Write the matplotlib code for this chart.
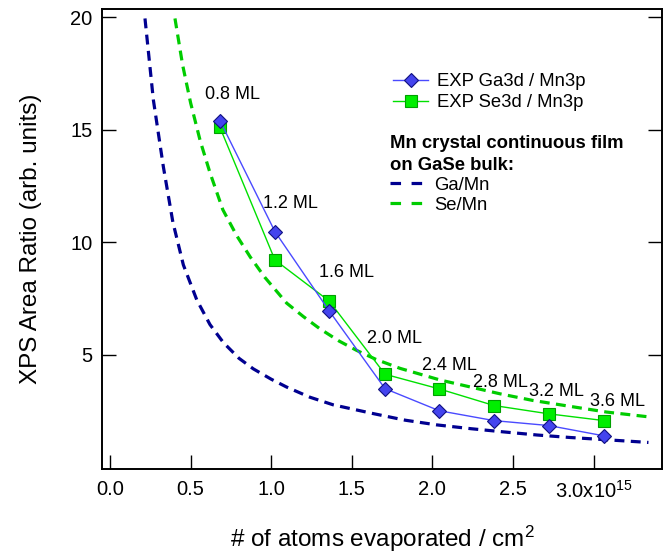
import matplotlib
matplotlib.use("Agg")
from matplotlib import pyplot as plt
from matplotlib.lines import Line2D

plt.rcParams['font.family'] = ['Liberation Sans', 'DejaVu Sans']
plt.rcParams['mathtext.fontset'] = 'custom'
plt.rcParams['mathtext.rm'] = 'Liberation Sans'
plt.rcParams['mathtext.it'] = 'Liberation Sans:italic'

# coverage (units of 1e15 atoms/cm^2) and measured area ratios
dose = [0.682, 1.023, 1.360, 1.706, 2.042, 2.382, 2.723, 3.066]
ga_mn3p = [15.41, 10.48, 6.95, 3.50, 2.52, 2.08, 1.86, 1.40]
se_mn3p = [15.11, 9.22, 7.39, 4.14, 3.49, 2.75, 2.38, 2.08]
ml_labels = ['0.8 ML', '1.2 ML', '1.6 ML', '2.0 ML', '2.4 ML', '2.8 ML', '3.2 ML', '3.6 ML']
ml_x = [0.757, 1.117, 1.464, 1.762, 2.103, 2.42, 2.77, 3.15]
ml_y = [16.55, 11.71, 8.64, 5.75, 4.51, 3.76, 3.36, 2.92]

# model curves: continuous Mn film on GaSe bulk
ga_model_x = [0.217, 0.269, 0.331, 0.39, 0.455, 0.538, 0.62, 0.703, 0.80, 0.889, 1.0,
              1.096, 1.24, 1.385, 1.634, 1.83, 2.027, 2.24, 2.44, 2.65, 2.854, 3.1, 3.34]
ga_model_y = [19.95, 16.33, 13.36, 10.9, 9.0, 7.45, 6.35, 5.55, 4.85, 4.38, 3.92,
              3.57, 3.12, 2.78, 2.39, 2.1, 1.89, 1.72, 1.58, 1.44, 1.33, 1.22, 1.11]
se_model_x = [0.403, 0.45, 0.50, 0.56, 0.62, 0.70, 0.786, 0.87, 0.96, 1.096, 1.2, 1.30,
              1.42, 1.53, 1.65, 1.80, 2.05, 2.25, 2.42, 2.62, 2.83, 3.08, 3.35]
se_model_y = [19.95, 17.9, 16.2, 14.5, 13.1, 11.45, 10.3, 9.35, 8.45, 7.3, 6.7, 6.17,
              5.62, 5.2, 4.8, 4.4, 3.88, 3.55, 3.27, 2.98, 2.74, 2.46, 2.24]

xticks = [0.0, 0.5, 1.0, 1.5, 2.0, 2.5, 3.0]
xtick_labels = ['0.0', '0.5', '1.0', '1.5', '2.0', '2.5', '3.0x10$^{15}$']
yticks = [5, 10, 15, 20]

navy = '#000090'
green_dash = '#00cc00'

fig = plt.figure(figsize=(6.68, 5.54), dpi=100)
ax = fig.add_axes([102 / 668, 1 - 469 / 554, 560 / 668, 460 / 554])

ax.plot(ga_model_x, ga_model_y, color=navy, lw=2.3, dashes=(3.1, 2.0), zorder=2)
ax.plot(se_model_x, se_model_y, color=green_dash, lw=2.3, dashes=(3.1, 2.0), zorder=2)

ax.plot(dose, se_mn3p, color='#00e000', lw=1.0, marker='s', ms=8.5,
        mfc='#00ee00', mec='#00a000', mew=0.8, zorder=3)
ax.plot(dose, ga_mn3p, color='#4a4aff', lw=1.0, marker='D', ms=7.5,
        mfc='#4444ee', mec='#101080', mew=0.8, zorder=4)

for s, x, y in zip(ml_labels, ml_x, ml_y):
    ax.text(x, y, s, ha='center', va='center', fontsize=13, zorder=5)

ax.set_xlim(-0.0496, 3.424)
ax.set_ylim(-0.07, 20.37)
ax.set_xticks(xticks)
ax.set_xticklabels(xtick_labels)
ax.set_yticks(yticks)
ax.tick_params(direction='in', length=10, width=1.0, labelsize=14.5)
ax.tick_params(axis='y', right=True, pad=7)
ax.tick_params(axis='x', pad=8)
for sp in ax.spines.values():
    sp.set_linewidth(1.4)

ax.set_ylabel('XPS Area Ratio (arb. units)', fontsize=17.5)
ax.yaxis.set_label_coords(-0.108, 0.5)
ax.set_xlabel('# of atoms evaporated / cm$^2$', fontsize=17.5)
ax.xaxis.set_label_coords(0.5, -0.12)

# legend for the measured ratios
exp_handles = [
    Line2D([], [], color='#4a4aff', lw=1.0, marker='D', ms=7.5,
           mfc='#4444ee', mec='#101080', mew=0.8),
    Line2D([], [], color='#00e000', lw=1.0, marker='s', ms=8.5,
           mfc='#00ee00', mec='#00a000', mew=0.8),
]
leg1 = ax.legend(exp_handles, ['EXP Ga3d / Mn3p', 'EXP Se3d / Mn3p'],
                 loc='upper left', bbox_to_anchor=(0.5196, 0.8598), frameon=False,
                 fontsize=13.3, borderpad=0, borderaxespad=0, labelspacing=0.21,
                 handlelength=1.9, handletextpad=0.5, numpoints=1)
ax.add_artist(leg1)

# legend for the model curves
model_handles = [
    Line2D([], [], color=navy, lw=2.3, dashes=(3.3, 3.3)),
    Line2D([], [], color=green_dash, lw=2.3, dashes=(3.3, 3.3)),
]
leg2 = ax.legend(model_handles, ['Ga/Mn', 'Se/Mn'],
                 title='Mn crystal continuous film\non GaSe bulk:',
                 title_fontproperties={'weight': 'bold', 'size': 13.3},
                 alignment='left', loc='upper left', bbox_to_anchor=(0.5143, 0.7250),
                 frameon=False, fontsize=13.3, borderpad=0, borderaxespad=0,
                 labelspacing=0.15, handlelength=1.9, handletextpad=0.5)
leg2.get_title().set_linespacing(1.35)

fig.savefig('out.png', dpi=100)
